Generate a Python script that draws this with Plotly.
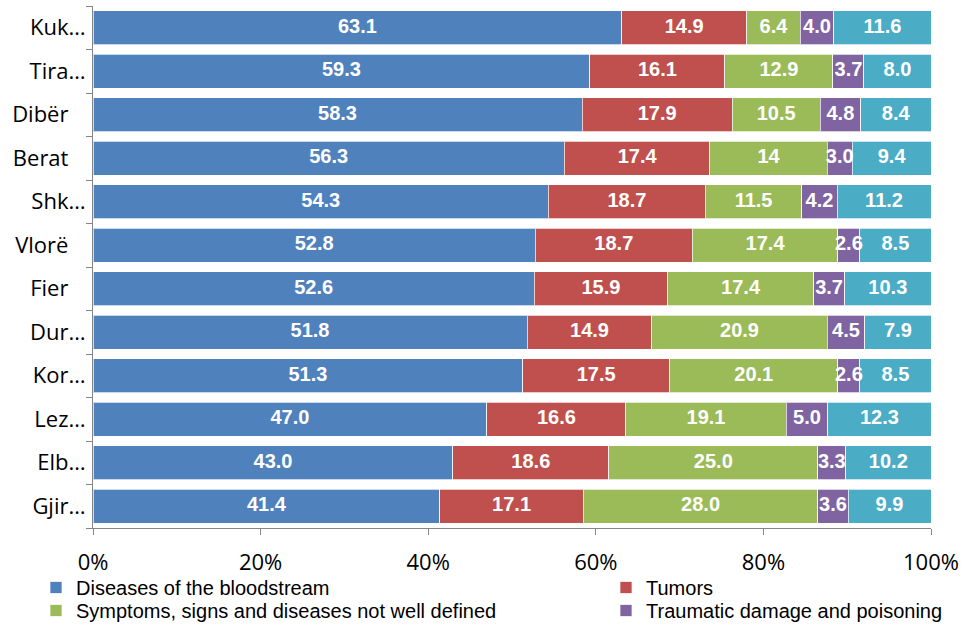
import plotly.graph_objects as go

# Districts, top to bottom (long names shortened as on the axis)
districts = ["Kuk…", "Tira…", "Dibër", "Berat", "Shk…", "Vlorë",
             "Fier", "Dur…", "Kor…", "Lez…", "Elb…", "Gjir…"]

# Share of deaths by cause (%)
bloodstream = [63.1, 59.3, 58.3, 56.3, 54.3, 52.8, 52.6, 51.8, 51.3, 47.0, 43.0, 41.4]
tumors = [14.9, 16.1, 17.9, 17.4, 18.7, 18.7, 15.9, 14.9, 17.5, 16.6, 18.6, 17.1]
ill_defined = [6.4, 12.9, 10.5, 14, 11.5, 17.4, 17.4, 20.9, 20.1, 19.1, 25.0, 28.0]
traumatic = [4.0, 3.7, 4.8, 3.0, 4.2, 2.6, 3.7, 4.5, 2.6, 5.0, 3.3, 3.6]
other = [11.6, 8.0, 8.4, 9.4, 11.2, 8.5, 10.3, 7.9, 8.5, 12.3, 10.2, 9.9]

x_ticks = [0, 20, 40, 60, 80, 100]

# name, values, colour, legend id (None = not listed)
series = [
    ("Diseases of the bloodstream", bloodstream, "#4F81BD", "legend"),
    ("Tumors", tumors, "#C0504D", "legend2"),
    ("Symptoms, signs and diseases not well defined", ill_defined, "#9BBB59", "legend3"),
    ("Traumatic damage and poisoning", traumatic, "#8064A2", "legend4"),
    ("Other", other, "#4BACC6", None),
]

# legend entries laid out in two columns below the axis (container coords)
legend_pos = {
    "legend": (36 / 965, 1 - 568 / 628),
    "legend2": (606 / 965, 1 - 568 / 628),
    "legend3": (36 / 965, 1 - 591 / 628),
    "legend4": (606 / 965, 1 - 591 / 628),
}

fig = go.Figure()
for name, vals, color, leg in series:
    fig.add_trace(go.Bar(
        name=name,
        y=districts,
        x=vals,
        orientation="h",
        marker=dict(color=color, line=dict(color="rgba(255,255,255,0.7)", width=1)),
        showlegend=leg is not None,
        legend=leg if leg else "legend",
        hoverinfo="x+y+name",
    ))

# value labels on top of every bar, centred in each segment of the 100% stack
totals = [sum(row) for row in zip(*(s[1] for s in series))]
running = [0.0] * len(districts)
for name, vals, color, leg in series:
    mids = []
    for i, v in enumerate(vals):
        mids.append((running[i] + v / 2) / totals[i] * 100)
        running[i] += v
    fig.add_trace(go.Scatter(
        x=mids,
        y=districts,
        mode="text",
        text=[str(v) for v in vals],
        textposition="middle center",
        textfont=dict(family="Liberation Sans, Arial", size=20, color="white", weight="bold"),
        showlegend=False,
        hoverinfo="skip",
        cliponaxis=False,
    ))

legend_style = dict(
    xref="container",
    yref="container",
    xanchor="left",
    yanchor="top",
    orientation="h",
    font=dict(family="Liberation Sans, Arial", size=20, color="black"),
    bgcolor="rgba(0,0,0,0)",
    borderwidth=0,
    itemclick=False,
    itemdoubleclick=False,
)

layout_legends = {}
for key, (lx, ly) in legend_pos.items():
    layout_legends[key] = dict(legend_style, x=lx, y=ly)

fig.update_layout(
    barmode="stack",
    barnorm="percent",
    bargap=0.21,
    width=965,
    height=628,
    margin=dict(l=93, r=34, t=6, b=100, autoexpand=False),
    paper_bgcolor="white",
    plot_bgcolor="white",
    font=dict(family="Open Sans, Liberation Sans, Arial", color="black"),
    **layout_legends,
)

fig.update_xaxes(
    range=[0, 100],
    tickvals=x_ticks,
    ticktext=[f"{t}%" for t in x_ticks],
    showgrid=False,
    zeroline=False,
    showline=True,
    linecolor="#868686",
    linewidth=1,
    ticks="outside",
    ticklen=6,
    tickcolor="#868686",
    tickfont=dict(family="Open Sans", size=22, color="black"),
    ticklabelstandoff=9,
)

# full names carry a little trailing padding; shortened ones sit at the tick
tick_text = [d if d.endswith("…") else d + "\u00a0" * 3 for d in districts]

fig.update_yaxes(
    type="category",
    range=[len(districts) - 0.5, -0.5],
    tickmode="array",
    tickvals=districts,
    ticktext=tick_text,
    showgrid=False,
    showline=True,
    linecolor="#868686",
    linewidth=1,
    ticks="outside",
    ticklen=6,
    tickcolor="#868686",
    tickson="boundaries",
    tickfont=dict(family="Open Sans", size=22, color="black"),
    ticklabelstandoff=2,
)

fig.write_html("out.html")
